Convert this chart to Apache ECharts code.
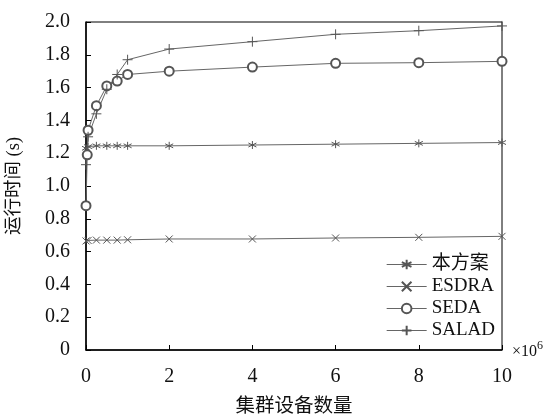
<!DOCTYPE html>
<html>
<head>
<meta charset="utf-8">
<script src="https://cdn.jsdelivr.net/npm/echarts@6/dist/echarts.min.js"></script>
<style>html,body{margin:0;padding:0;background:#fff;}#c{width:550px;height:416px;}</style>
</head>
<body>
<div id="c"></div>
<script>
var seriesNames = ['本方案', 'ESDRA', 'SEDA', 'SALAD'];
var xOurs = [0, 0.05, 0.25, 0.5, 0.75, 1, 2, 4, 6, 8, 10];
var yOurs = [1.23, 1.24, 1.245, 1.245, 1.245, 1.245, 1.245, 1.25, 1.255, 1.26, 1.265];
var xEsdra = [0, 0.05, 0.25, 0.5, 0.75, 1, 2, 4, 6, 8, 10];
var yEsdra = [0.665, 0.668, 0.67, 0.67, 0.67, 0.672, 0.677, 0.677, 0.683, 0.687, 0.693];
var xSeda = [0, 0.03, 0.05, 0.25, 0.5, 0.75, 1, 2, 4, 6, 8, 10];
var ySeda = [0.88, 1.19, 1.34, 1.49, 1.61, 1.64, 1.68, 1.70, 1.725, 1.748, 1.752, 1.76];
var xSalad = [0, 0.05, 0.25, 0.5, 0.75, 1, 2, 4, 6, 8, 10];
var ySalad = [1.13, 1.30, 1.44, 1.59, 1.68, 1.77, 1.835, 1.88, 1.925, 1.947, 1.976];
var xTicks = ['0', '2', '4', '6', '8', '10'];
var yTicks = ['0', '0.2', '0.4', '0.6', '0.8', '1.0', '1.2', '1.4', '1.6', '1.8', '2.0'];

function pairs(xs, ys) { return xs.map(function (x, i) { return [x, ys[i]]; }); }

var FONT = '"Liberation Serif", "Noto Sans CJK SC", serif';
var LINE = '#666';
var MARK = '#555';
var symAst = 'path://M0,-5L0,5M-4.33,-2.5L4.33,2.5M-4.33,2.5L4.33,-2.5';
var symX = 'path://M-4,-4L4,4M-4,4L4,-4';
var symPlus = 'path://M0,-5L0,5M-5,0L5,0';

function mk(name, data, symbol, size) {
  return {
    name: name, type: 'line', data: data,
    symbol: symbol, symbolSize: size, showSymbol: true,
    lineStyle: { color: LINE, width: 1 },
    itemStyle: { color: MARK, borderColor: MARK, borderWidth: 1 },
    emphasis: { disabled: true },
    animation: false
  };
}

var chart = echarts.init(document.getElementById('c'));
chart.setOption({
  backgroundColor: '#fff',
  textStyle: { fontFamily: FONT },
  grid: { left: 86, right: 48, top: 22, bottom: 66, show: true, borderColor: '#000', borderWidth: 1,
    containLabel: false, outerBoundsMode: 'none' },
  xAxis: {
    type: 'value', min: 0, max: 10, interval: 2,
    name: '集群设备数量', nameLocation: 'middle', nameGap: 47,
    nameTextStyle: { fontSize: 19.5, color: '#111', fontFamily: FONT },
    axisLine: { show: true, lineStyle: { color: '#000', width: 1.5 } },
    axisTick: { show: true, inside: true, length: 5, lineStyle: { color: '#000' } },
    axisLabel: { margin: 17, fontSize: 20, color: '#111', fontFamily: FONT,
      formatter: function (v) { return xTicks[Math.round(v / 2)]; } },
    splitLine: { show: false }
  },
  yAxis: {
    type: 'value', min: 0, max: 2, interval: 0.2,
    name: '运行时间 (s)', nameLocation: 'middle', nameGap: 63, nameRotate: 90,
    nameTextStyle: { fontSize: 18.5, color: '#111', fontFamily: FONT },
    axisLine: { show: true, lineStyle: { color: '#000', width: 1.5 } },
    axisTick: { show: true, inside: true, length: 5, lineStyle: { color: '#000' } },
    axisLabel: { margin: 16, fontSize: 20, color: '#111', fontFamily: FONT,
      formatter: function (v) { return yTicks[Math.round(v / 0.2)]; } },
    splitLine: { show: false }
  },
  legend: {
    orient: 'vertical', right: 50, top: 250, itemWidth: 40, itemHeight: 12, itemGap: 3,
    lineStyle: { width: 1 },
    textStyle: { fontSize: 19, color: '#111', fontFamily: FONT },
    data: seriesNames
  },
  graphic: [{
    type: 'text', left: 512, top: 340,
    style: {
      text: '{a|×10}{b|6}',
      rich: {
        a: { fontSize: 16, fontFamily: FONT, fill: '#111', verticalAlign: 'bottom' },
        b: { fontSize: 12, fontFamily: FONT, fill: '#111', verticalAlign: 'top', padding: [0, 0, 8, 0] }
      }
    }
  }],
  series: [
    mk(seriesNames[0], pairs(xOurs, yOurs), symAst, 8),
    mk(seriesNames[1], pairs(xEsdra, yEsdra), symX, 7),
    mk(seriesNames[2], pairs(xSeda, ySeda), 'emptyCircle', 9),
    mk(seriesNames[3], pairs(xSalad, ySalad), symPlus, 10)
  ]
});
</script>
</body>
</html>
